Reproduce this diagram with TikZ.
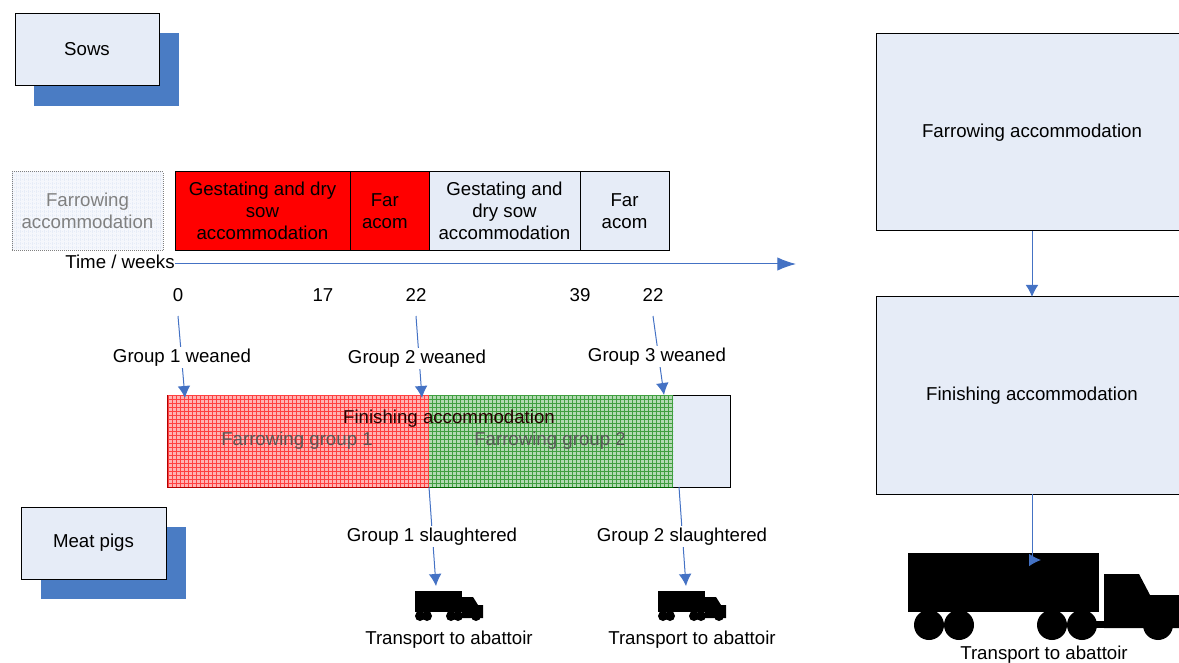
\documentclass[tikz,border=0pt]{standalone}
\usepackage{fontspec}
\setmainfont{Liberation Sans}
\usetikzlibrary{positioning,patterns,arrows.meta}
\definecolor{boxfill}{HTML}{E6ECF7}
\definecolor{shadowblue}{HTML}{4A7CC4}
\definecolor{linkblue}{HTML}{4472C4}
\tikzset{
  bigtruck/.pic={
    \fill (0,0) rectangle (191,59);
    \fill (196,21) -- (231,21) -- (242,42) -- (280,42) -- (280,75) -- (196,75) -- cycle;
    \fill (180,68) rectangle (200,75);
    \foreach \wheel in {21,51,144,174,250} \fill (\wheel,72) circle[radius=15];
  },
  smalltruck/.pic={
    \fill (0,0) rectangle (47,21);
    \fill (47,6) -- (58,6) -- (63,14) -- (68,14) -- (68,27) -- (47,27) -- cycle;
    \fill (40,24) rectangle (47,27);
    \foreach \wheel in {5,12,36,43,61} \fill (\wheel,25) circle[radius=5];
  }
}
\begin{document}
\begin{tikzpicture}[x=0.75pt, y=-0.75pt, font=\fontsize{14}{16.5}\selectfont,
  main/.style = {draw, fill=boxfill, line width=0.75pt, outer sep=0pt, align=center, inner sep=0pt},
  shadow/.style = {fill=shadowblue, outer sep=0pt, inner sep=0pt},
  redbox/.style = {main, fill=red},
  zone/.style = {outer sep=0pt, inner sep=0pt, preaction={fill=#1!30}, pattern=grid, pattern color=#1!75},
  tick/.style = {minimum height=42*0.75pt, inner sep=0pt, outer sep=0pt},
  label/.style = {fill=white, inner xsep=1pt, inner ysep=1pt},
  plain/.style = {inner sep=0pt},
  link/.style = {draw=linkblue, line width=0.75pt, -{Latex[length=9pt,width=9.5pt]}}]
\useasboundingbox (0,0) rectangle (1179,663);
% animals
\node[shadow, minimum width=145*0.75pt, minimum height=73*0.75pt] (sowshadow) at (106.5,69.5) {};
\node[main, minimum width=144*0.75pt, minimum height=72*0.75pt] (sows) at (87,49.5) {Sows};
\node[shadow, minimum width=145*0.75pt, minimum height=72*0.75pt] (pigshadow) at (113.5,563) {};
\node[main, minimum width=145*0.75pt, minimum height=72*0.75pt] (pigs) at (93.5,543) {Meat pigs};
% accommodation row
\node[draw=gray, densely dotted, line width=0.5pt, outer sep=0pt, align=center, inner sep=0pt, text=gray,
  minimum width=151*0.75pt, minimum height=79*0.75pt,
  preaction={fill=boxfill!40}, pattern=grid, pattern color=boxfill] (farrow0) at (87.5,211) {Farrowing\\accommodation};
\node[redbox, minimum width=175*0.75pt, minimum height=79*0.75pt] (gest1) at (262.5,211) {Gestating and dry\\sow\\accommodation};
\node[redbox, minimum width=79*0.75pt, minimum height=79*0.75pt] (far1) [right=0pt of gest1] {Far\hspace*{7pt}\\acom\hspace*{7pt}};
\node[main, minimum width=151*0.75pt, minimum height=79*0.75pt] (gest2) [right=0pt of far1] {Gestating and\\dry sow\\accommodation};
\node[main, minimum width=89*0.75pt, minimum height=79*0.75pt] (far2) [right=0pt of gest2] {Far\\acom};
% time line
\node[plain] (time) at (120,262) {Time / weeks};
\coordinate (timeend) at (796,264);
\draw[draw=linkblue, line width=0.75pt, -{Latex[length=14pt,width=10pt]}] (time.east |- timeend) -- (timeend);
\node[tick] (t0) at (178,295) {0};
\node[tick] (t17) at (323,295) {17};
\node[tick] (t22) at (416,295) {22};
\node[tick] (t39) at (580,295) {39};
\node[tick] (t44) at (653,295) {22};
% finishing bar
\node[main, minimum width=563*0.75pt, minimum height=92*0.75pt] (bar) at (448.5,441) {};
\node[zone=red, minimum width=262*0.75pt, minimum height=92*0.75pt] (zone1) at (298,441) {};
\node[zone=green!50!black, minimum width=244*0.75pt, minimum height=92*0.75pt] (zone2) at (551,441) {};
\draw[red!70!black, line width=0.75pt] (zone1.north west) -- (zone1.south west) -- (zone1.south east);
\draw[green!40!black, line width=0.75pt] (zone2.south west) -- (zone2.south east);
\node[plain, text=black!85!red] (barlabel) at (449,418.5) {Finishing accommodation};
\node[plain, text=black!65] (group1) at (297,441) {Farrowing group 1};
\node[plain, text=black!65] (group2) at (550,441) {Farrowing group 2};
% right column
\node[main, minimum width=312*0.75pt, minimum height=197*0.75pt] (farrow) at (1032,132.5) {Farrowing accommodation};
\node[main, minimum width=312*0.75pt, minimum height=197*0.75pt] (finish) at (1032,395.5) {Finishing accommodation};
% trucks
\pic at (415,591) {smalltruck};
\pic at (658,591) {smalltruck};
\pic at (908,553) {bigtruck};
\coordinate (g1) at (185,398);
\coordinate (g2) at (422,398);
\coordinate (g3) at (664,395);
\coordinate (s1start) at (429,487);
\coordinate (s2start) at (679,487);
\coordinate (truck1) at (436,586);
\coordinate (truck2) at (686,586);
\coordinate (truck3) at (1032,560);
\coordinate (truck3tip) at (1041,560);
\draw[link] (t0.south) -- (g1);
\draw[link] (t22.south) -- (g2);
\draw[link] (t44.south) -- (g3);
\draw[link] (s1start) -- (truck1);
\draw[link] (s2start) -- (truck2);
\draw[link] (farrow) -- (finish);
\draw[link] (finish.south) -- (truck3) -- (truck3tip);
% labels
\node[label] (l1) at (182,357.5) {Group 1 weaned};
\node[label] (l2) at (417,358.5) {Group 2 weaned};
\node[label] (l3) at (657,356.5) {Group 3 weaned};
\node[label] (l4) at (432,536.5) {Group 1 slaughtered};
\node[label] (l5) at (682,536.5) {Group 2 slaughtered};
\node[plain] (abattoir1) at (449,639.5) {Transport to abattoir};
\node[plain] (abattoir2) at (692,639.5) {Transport to abattoir};
\node[plain] (abattoir3) at (1044,654.5) {Transport to abattoir};
\end{tikzpicture}
\end{document}
